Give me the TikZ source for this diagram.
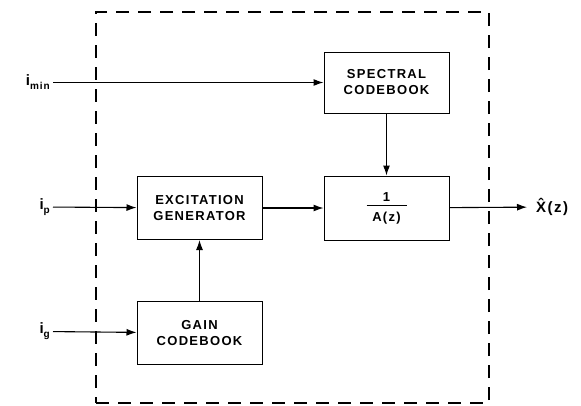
\documentclass[tikz,border=0pt]{standalone}
\usepackage{fontspec}
\newfontfamily\lblfont[LetterSpace=10]{Liberation Sans}
\usetikzlibrary{positioning,arrows.meta}
\newcommand{\idx}[1]{i\raisebox{-4pt}{\fontsize{10}{10}\selectfont #1}}
\tikzset{
  blk/.style={rectangle, draw, line width=1pt, minimum width=125pt,
              minimum height=63pt, align=center, inner sep=0pt,
              font=\lblfont\bfseries\fontsize{13}{16}\selectfont},
  inp/.style={inner sep=3pt, font=\lblfont\bfseries\fontsize{15}{17}\selectfont},
  bound/.style={draw, line width=1.2pt, dash pattern=on 13pt off 9pt,
                minimum width=393pt, minimum height=391pt},
  flow/.style={-{Latex[length=10pt,width=7pt]}, line width=1.1pt},
}

\begin{document}
\begin{tikzpicture}[x=1pt, y=-1pt]
  \useasboundingbox (0,0) rectangle (581,405);

  % ===== enclosing dashed frame ========================================
  \node[bound] (bnd) at (292.5,207.5) {};

  % ===== blocks ========================================================
  \node[blk, minimum height=61pt] (spec) at (386.5,82.5) {SPECTRAL\\CODEBOOK};
  \node[blk, minimum height=64pt, below=62pt of spec] (filt)
       {1\\[-11pt]\rule{40pt}{0.8pt}\\[-1pt]A(z)};
  \node[blk, left=61pt of filt] (exc) {EXCITATION\\GENERATOR};
  \node[blk, below=61pt of exc] (gain) {GAIN\\CODEBOOK};

  % ===== inputs / output ===============================================
  \node[inp, anchor=east] (imin) at (53,82.5) {\idx{min}};
  \node[inp, anchor=east] (ip) at (53,207) {\idx{p}};
  \node[inp, anchor=east] (ig) at (53,331.5) {\idx{g}};
  \node[inp, anchor=west, inner xsep=9pt] (xout) at (527,207) {\^{X}(z)};

  % ===== connections ===================================================
  \draw[flow] (imin) -- (spec);
  \draw[flow] (ip) -- (exc);
  \draw[flow] (ig) -- (gain);
  \draw[flow] (gain) -- (exc);
  \draw[flow] (exc) -- (filt);
  \draw[flow] (spec) -- (filt);
  \draw[flow] (filt) -- (xout);

\end{tikzpicture}
\end{document}
